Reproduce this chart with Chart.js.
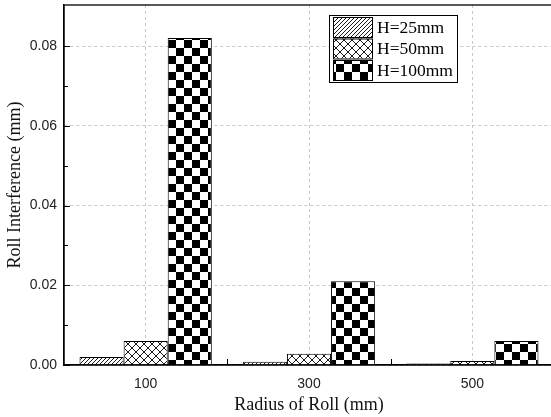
<!DOCTYPE html>
<html>
<head>
<meta charset="utf-8">
<script src="https://cdn.jsdelivr.net/npm/chart.js@4.4.0/dist/chart.umd.min.js"></script>
<style>
  html, body { margin: 0; padding: 0; background: #fff; overflow: hidden; }
  #wrap { width: 556px; height: 417px; }
</style>
</head>
<body>
<div id="wrap"><canvas id="barChart"></canvas></div>
<script>
// data
var radii = ['100', '300', '500'];
var seriesNames = ['H=25mm', 'H=50mm', 'H=100mm'];
var h25 = [0.0020, 0.0008, 0.0004];
var h50 = [0.0060, 0.0028, 0.0010];
var h100 = [0.0820, 0.0210, 0.0060];
var yTicks = [0, 0.02, 0.04, 0.06, 0.08];
var yMinor = [0.01, 0.03, 0.05, 0.07];

// fill patterns
function makeTile(size, draw) {
    var c = document.createElement('canvas');
    c.width = size; c.height = size;
    var g = c.getContext('2d');
    g.fillStyle = '#fff';
    g.fillRect(0, 0, size, size);
    draw(g, size);
    return document.getElementById('barChart').getContext('2d').createPattern(c, 'repeat');
}
var hatch = makeTile(4, function (g, s) {
    g.strokeStyle = '#000'; g.lineWidth = 0.9;
    g.beginPath();
    g.moveTo(-1, s + 1); g.lineTo(s + 1, -1);
    g.moveTo(-1 - s, s + 1); g.lineTo(1, -1);
    g.moveTo(s - 1, s + 1); g.lineTo(2 * s + 1, -1);
    g.stroke();
});
var cross = makeTile(8, function (g, s) {
    g.strokeStyle = '#000'; g.lineWidth = 0.9;
    g.beginPath();
    g.moveTo(0, 0); g.lineTo(s, s);
    g.moveTo(0, s); g.lineTo(s, 0);
    g.stroke();
});
var checker = makeTile(16, function (g, s) {
    g.fillStyle = '#000';
    g.fillRect(0, 0, s / 2, s / 2);
    g.fillRect(s / 2, s / 2, s / 2, s / 2);
});
var fills = [hatch, cross, checker];

// frame, inner ticks, boundary ticks and boxed legend
var decor = {
    id: 'decor',
    afterDraw: function (chart) {
        var ctx = chart.ctx, a = chart.chartArea;
        var y = chart.scales.y, x = chart.scales.x;
        ctx.save();
        ctx.strokeStyle = '#000';
        ctx.lineWidth = 1.3;
        ctx.strokeRect(a.left, a.top, a.right - a.left, a.bottom - a.top);
        ctx.lineWidth = 1;
        ctx.beginPath();
        yTicks.forEach(function (v) {
            var py = Math.round(y.getPixelForValue(v)) + 0.5;
            ctx.moveTo(a.left, py); ctx.lineTo(a.left + 6, py);
        });
        yMinor.forEach(function (v) {
            var py = Math.round(y.getPixelForValue(v)) + 0.5;
            ctx.moveTo(a.left, py); ctx.lineTo(a.left + 4, py);
        });
        for (var i = 1; i < radii.length; i++) {
            var px = Math.round((x.getPixelForValue(i - 1) + x.getPixelForValue(i)) / 2) + 0.5;
            ctx.moveTo(px, a.bottom); ctx.lineTo(px, a.bottom - 6);
        }
        ctx.stroke();

        // legend
        var lx = 329, ly = 15, lw = 128, lh = 67;
        ctx.fillStyle = '#fff';
        ctx.fillRect(lx, ly, lw, lh);
        ctx.strokeRect(lx + 0.5, ly + 0.5, lw, lh);
        ctx.font = '17.5px "Liberation Serif", "Times New Roman", serif';
        ctx.textBaseline = 'middle';
        chart.data.datasets.forEach(function (ds, k) {
            var by = ly + 2 + k * 21.5;
            ctx.fillStyle = ds.backgroundColor;
            ctx.fillRect(lx + 4, by, 39, 20);
            ctx.strokeRect(lx + 4.5, by + 0.5, 39, 20);
            ctx.fillStyle = '#000';
            ctx.fillText(ds.label, lx + 48, by + 11);
        });
        ctx.restore();
    }
};

var ctx = document.getElementById('barChart').getContext('2d');
var myBarChart = new Chart(ctx, {
    type: 'bar',
    data: {
        labels: radii,
        datasets: [h25, h50, h100].map(function (vals, k) {
            return {
                label: seriesNames[k],
                data: vals,
                backgroundColor: fills[k],
                borderColor: '#000',
                borderWidth: 1,
                borderSkipped: 'bottom'
            };
        })
    },
    options: {
        responsive: true,
        maintainAspectRatio: false,
        animation: false,
        layout: { padding: { left: 0, right: 2, top: 5, bottom: 0 } },
        plugins: {
            legend: { display: false },
            tooltip: { enabled: false }
        },
        datasets: {
            bar: { categoryPercentage: 0.81, barPercentage: 1 }
        },
        scales: {
            x: {
                offset: true,
                afterFit: function (scale) {
                    scale.height = 52;
                    scale.paddingLeft = 0;
                    scale.paddingRight = 0;
                },
                grid: {
                    offset: false,
                    color: '#c8c8c8',
                    drawTicks: false
                },
                border: { display: true, color: '#000', width: 1.3, dash: [3, 3] },
                ticks: {
                    padding: 11,
                    color: '#222',
                    font: { family: '"Liberation Sans", Arial, sans-serif', size: 14 }
                },
                title: {
                    display: true,
                    text: 'Radius of Roll (mm)',
                    color: '#111',
                    padding: { top: 0, bottom: 1 },
                    font: { family: '"Liberation Serif", "Times New Roman", serif', size: 18 }
                }
            },
            y: {
                min: 0,
                max: 0.0903,
                afterBuildTicks: function (scale) {
                    scale.ticks = yTicks.map(function (v) { return { value: v }; });
                },
                afterFit: function (scale) {
                    scale.width = 64;
                    scale.paddingTop = 0;
                    scale.paddingBottom = 0;
                },
                grid: {
                    color: '#c8c8c8',
                    drawTicks: false
                },
                border: { display: true, color: '#000', width: 1.3, dash: [3, 3] },
                ticks: {
                    padding: 7,
                    color: '#222',
                    font: { family: '"Liberation Sans", Arial, sans-serif', size: 14 },
                    callback: function (v) { return Number(v).toFixed(2); }
                },
                title: {
                    display: true,
                    text: 'Roll Interference (mm)',
                    color: '#111',
                    padding: { top: 4, bottom: 0 },
                    font: { family: '"Liberation Serif", "Times New Roman", serif', size: 18 }
                }
            }
        }
    },
    plugins: [decor]
});
</script>
</body>
</html>
